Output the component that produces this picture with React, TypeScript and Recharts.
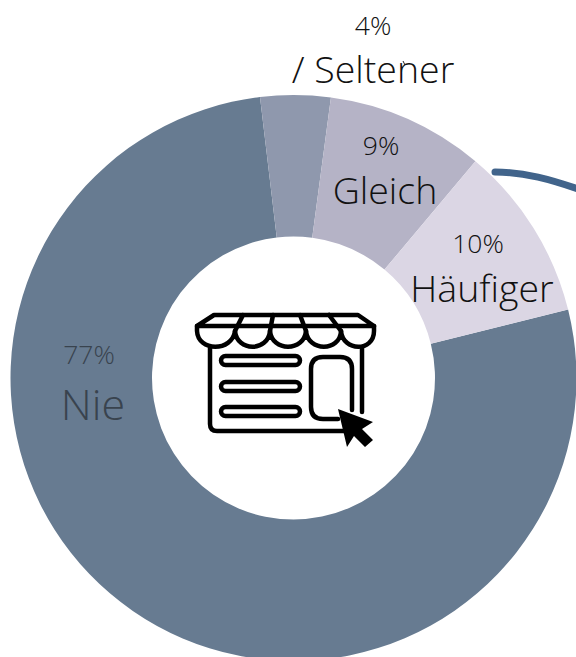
import React from "react";
import { PieChart, Pie, Cell } from "recharts";

const categories = ["Nie", "/ Seltener", "Gleich", "Häufiger"];
const shares = [77, 4, 9, 10];
const sliceColors = ["#677b91", "#8f98ad", "#b5b3c6", "#dbd6e4"];
const labelColors = ["#39434e", "#111111", "#111111", "#111111"];
const nameSizes = [43, 37.5, 37.5, 37.5];
// name label baseline, relative to the donut centre
const nameOffset: [number, number][] = [[-200.5, 42], [79.5, -295], [91.5, -174], [188.5, -76]];
// share label baseline, relative to the name label
const shareOffset: [number, number][] = [[-4, -56], [0, -48], [-4, -49], [-4, -49]];

const data = categories.map((name, i) => ({ name, value: shares[i] }));

const renderLabel = (p: any) => {
  const i = p.index;
  const x = p.cx + nameOffset[i][0];
  const y = p.cy + nameOffset[i][1];
  return (
    <g key={i} fontFamily="'Open Sans', sans-serif" fontWeight={300} fill={labelColors[i]} textAnchor="middle">
      <text x={x + shareOffset[i][0]} y={y + shareOffset[i][1]} fontSize={26.5}>{shares[i]}%</text>
      <text x={x} y={y} fontSize={nameSizes[i]}>{categories[i]}</text>
    </g>
  );
};

export default function App() {
  return (
    <div style={{ position: "absolute", left: 0, top: 0, width: 576, height: 657, overflow: "hidden", background: "#fff" }}>
      <PieChart width={576} height={657} margin={{ top: 0, right: 0, bottom: 0, left: 0 }}>
        <Pie
          data={data}
          dataKey="value"
          cx={293.5}
          cy={378}
          outerRadius={283}
          innerRadius={141.5}
          startAngle={14}
          endAngle={-346}
          stroke="none"
          paddingAngle={0}
          label={renderLabel}
          labelLine={false}
          isAnimationActive={false}
        >
          {categories.map((c, i) => (
            <Cell key={c} fill={sliceColors[i]} />
          ))}
        </Pie>
      </PieChart>
      <svg width={576} height={657} style={{ position: "absolute", left: 0, top: 0, pointerEvents: "none" }}>
        <path d="M495 172 C525 172 552 180 578 189" fill="none" stroke="#41648b" strokeWidth={7} strokeLinecap="round" />
        <path d="M403 61 L405 65" stroke="#222" strokeWidth={1} fill="none" />
        <g fill="none" stroke="#000" strokeWidth={4.5} strokeLinejoin="round" strokeLinecap="round">
          <path d="M214 315 H358 L374 326 H197 Z" />
          <path d="M197 326 V331 C198 352 232 352 235 331 C237 352 268 352 270 331 C272 352 304 352 306 331 C308 352 340 352 341 331 C343 352 374 352 374 331 V326" />
          <path d="M243 315 L235 331 M273 315 L270 331 M300 315 L306 331 M329 315 L341 331" />
          <path d="M210 348 V424 Q210 431 217 431 H345" />
          <path d="M362 348 V412" />
          <rect x={221} y={356} width={79} height={9} rx={4.5} />
          <rect x={221} y={382} width={79} height={9} rx={4.5} />
          <rect x={221} y={407} width={79} height={9} rx={4.5} />
          <path d="M338 419 H323 Q311 419 311 407 V369 Q311 357 323 357 H340 Q352 357 352 369 V410" />
        </g>
        <path d="M338 409 L373 422 L362 429 L373 440 L365 447 L354 436 L347 447 Z" fill="#000" />
      </svg>
    </div>
  );
}
